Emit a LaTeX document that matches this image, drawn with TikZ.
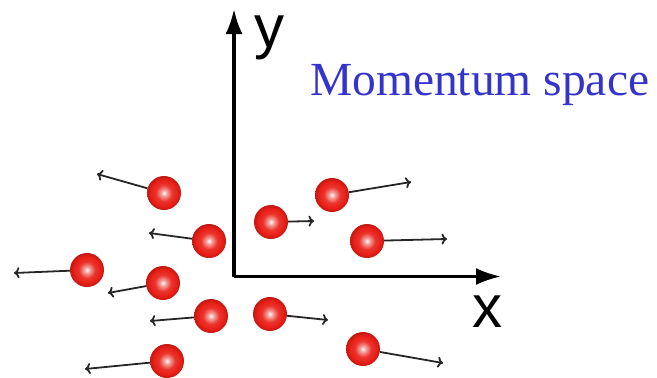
\documentclass[tikz,border=0pt]{standalone}
\usepackage{fontspec}
\setmainfont{Liberation Serif}
\newfontfamily\axisfont{Liberation Sans}
\usetikzlibrary{arrows.meta}
\definecolor{ballred}{RGB}{232,30,22}
\definecolor{labelblue}{RGB}{52,52,204}
\pgfdeclareradialshading{redball}{\pgfpoint{0bp}{0bp}}{%
  color(0bp)=(white);
  color(4bp)=(ballred!40);
  color(12bp)=(ballred!90!white);
  color(20bp)=(ballred);
  color(25bp)=(ballred!82!black);
  color(50bp)=(ballred!82!black)}
\tikzset{
  ball/.style={circle, minimum size=34pt, inner sep=0pt, shading=redball},
  axis/.style={line width=3.2pt, -{Latex[length=25pt,width=17pt]}},
  vel/.style={line width=1.8pt, draw=black!85, -{Computer Modern Rightarrow[length=5.5pt,width=11pt,line width=1.8pt]}},
  axlabel/.style={font=\axisfont\fontsize{60}{60}\selectfont, inner sep=0pt, anchor=base}
}
\begin{document}
\begin{tikzpicture}[x=1pt,y=-1pt]
\useasboundingbox (0,0) rectangle (657,378);
% axes
\coordinate (o) at (234,276.5);
\coordinate (ytip) at (234,9);
\coordinate (xtip) at (501,276.5);
\draw[axis] (o) -- (ytip);
\draw[axis] (o) -- (xtip);
\node[axlabel] (ylab) at (269,47) {y};
\node[axlabel] (xlab) at (487.5,327) {x};
\node[font=\fontsize{47.5}{47.5}\selectfont, text=labelblue, inner sep=0pt, anchor=base west] (title) at (310,95) {Momentum space};
% arrow tips
\coordinate (t1) at (97,174);
\coordinate (t2) at (149,233);
\coordinate (t3) at (14,273);
\coordinate (t4) at (108,293);
\coordinate (t5) at (150,321);
\coordinate (t6) at (85,369);
\coordinate (t7) at (314,221);
\coordinate (t8) at (328,320);
\coordinate (t9) at (411,182);
\coordinate (t10) at (447,239);
\coordinate (t11) at (443,363);
% balls
\node[ball] (b1) at (164,193) {};
\node[ball] (b2) at (209,241) {};
\node[ball] (b3) at (87,270) {};
\node[ball] (b4) at (163,283) {};
\node[ball] (b5) at (211,316) {};
\node[ball] (b6) at (167,361) {};
\node[ball] (b7) at (271,222) {};
\node[ball] (b8) at (270,314) {};
\node[ball] (b9) at (332,195) {};
\node[ball] (b10) at (367,241) {};
\node[ball] (b11) at (363,349) {};
% velocities
\foreach \i in {1,...,11} { \draw[vel] (b\i) -- (t\i); }
\end{tikzpicture}
\end{document}
